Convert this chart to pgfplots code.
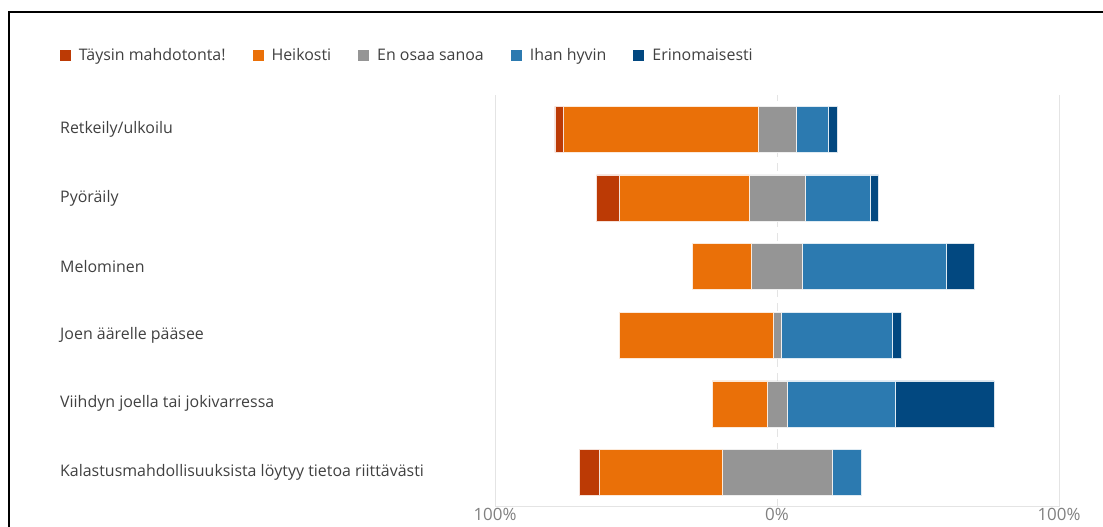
\documentclass[border=0pt]{standalone}
\usepackage{pgfplots}
\pgfplotsset{compat=1.18}
\usepackage{pgfplotstable}
\usepackage{fontspec}
\setmainfont{Open Sans}

\definecolor{cTay}{RGB}{188,58,5}
\definecolor{cHei}{RGB}{234,112,8}
\definecolor{cEn}{RGB}{149,149,149}
\definecolor{cIhan}{RGB}{44,122,176}
\definecolor{cEri}{RGB}{2,72,128}
\definecolor{txt}{RGB}{64,64,64}
\definecolor{tck}{RGB}{128,128,128}
\definecolor{grd}{RGB}{228,228,228}

% the x axis runs 0..200 with the centre (0%) at 100;
% base = 100 - (t + h + g/2), so the neutral answer sits on the centre line
\pgfplotstableread{
y base   t  h    g    i    e
0 30     7  43.5 39   10.5 0
1 77     0  19.5 7    38.5 35
2 44     0  54.5 3    39.5 3
3 70     0  21   18   51   10
4 36     8  46   20   23   3
5 21.25  3  69   13.5 11.5 3
}\data

\begin{document}
\begin{tikzpicture}
\useasboundingbox (0,0) rectangle (1103bp,527bp);
\draw[line width=2bp] (9bp,0) |- (1103bp,515bp);
\begin{axis}[
    at={(495bp,20.3bp)}, anchor=south west,
    scale only axis, width=564bp, height=411.6bp,
    xbar stacked, bar width=46bp,
    xmin=0, xmax=200, ymin=-0.5, ymax=5.5,
    axis x line*=bottom, axis y line*=left,
    x axis line style={draw=grd},
    y axis line style={draw=none},
    major tick length=0,
    xtick={0,200}, xticklabels={100\%,100\%},
    extra x ticks={100}, extra x tick labels={0\%},
    extra x tick style={grid style={draw=grd, dash pattern=on 8bp off 6bp}},
    xmajorgrids, grid style={draw=grd},
    xticklabel style={font=\fontsize{17}{20}\selectfont, text=tck, anchor=center, yshift=-7.5bp},
    ytick={0,...,5},
    yticklabels={Kalastusmahdollisuuksista löytyy tietoa riittävästi,
        Viihdyn joella tai jokivarressa, Joen äärelle pääsee, Melominen,
        Pyöräily, Retkeily/ulkoilu},
    yticklabel style={font=\fontsize{16}{19}\selectfont, text=txt, anchor=west, inner xsep=0pt, xshift=-435bp},
    legend columns=-1,
    legend style={at={(-0.7718,1.0962)}, anchor=west, draw=none, inner sep=0pt,
        font=\fontsize{16}{19}\selectfont, text=txt,
        /tikz/every odd column/.append style={column sep=6bp},
        /tikz/every even column/.append style={column sep=25bp}},
    legend image code/.code={\fill[#1] (0bp,-5.5bp) rectangle (11bp,5.5bp);},
    seg/.style={draw=white!85!#1, line width=0.5bp, fill=#1},
]
\addlegendimage{fill=cTay, draw=none}
\addlegendimage{fill=cHei, draw=none}
\addlegendimage{fill=cEn, draw=none}
\addlegendimage{fill=cIhan, draw=none}
\addlegendimage{fill=cEri, draw=none}
\addplot[draw=none, fill=none] table[x=base, y=y] {\data};
\addplot[seg=cTay] table[x=t, y=y] {\data};
\addplot[seg=cHei] table[x=h, y=y] {\data};
\addplot[seg=cEn] table[x=g, y=y] {\data};
\addplot[seg=cIhan] table[x=i, y=y] {\data};
\addplot[seg=cEri] table[x=e, y=y] {\data};
\legend{Täysin mahdotonta!, Heikosti, En osaa sanoa, Ihan hyvin, Erinomaisesti}
\end{axis}
\end{tikzpicture}
\end{document}
